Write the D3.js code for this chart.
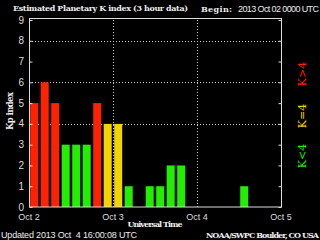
<!DOCTYPE html>
<html>
<head>
<meta charset="utf-8">
<script src="https://cdn.jsdelivr.net/npm/d3@7.9.0/dist/d3.min.js"></script>
<style>
  html, body { margin: 0; padding: 0; background: #000; }
  svg { display: block; }
  text { white-space: pre; }
</style>
</head>
<body>
<svg id="chart" width="320" height="240"></svg>
<script>
// Kp values, one per 3 hours starting 2013 Oct 02 00 UTC
const kpValues = [5, 6, 5, 3, 3, 3, 5, 4,
                  4, 1, 0, 1, 1, 2, 2, 0,
                  0, 0, 0, 0, 1];
const dayLabels = ['Oct 2', 'Oct 3', 'Oct 4', 'Oct 5'];
const yTicks = [0, 1, 2, 3, 4, 5, 6, 7, 8, 9];
const gridLevels = [4, 6, 8];
const legendItems = [
    { label: 'K>4', color: '#ff2200', y: 74 },
    { label: 'K=4', color: '#f4d400', y: 116 },
    { label: 'K<4', color: '#22ee00', y: 156 }
];

const svg = d3.select('#chart');
const plotLeft = 29, plotRight = 281, plotTop = 20, plotBottom = 207;

const x = d3.scaleLinear().domain([0, 72]).range([plotLeft, plotRight]);
const y = d3.scaleLinear().domain([0, 9]).range([plotBottom, plotTop]);

function kpColor(k) {
    if (k > 4) return '#ff2200';
    if (k === 4) return '#f4d400';
    return '#22ee00';
}

// grid lines
svg.selectAll('line.hgrid')
    .data(gridLevels)
    .join('line')
    .attr('x1', plotLeft).attr('x2', plotRight)
    .attr('y1', d => Math.round(y(d)) + 0.5).attr('y2', d => Math.round(y(d)) + 0.5)
    .attr('stroke', '#ccc').attr('stroke-dasharray', '1,2');

svg.selectAll('line.vgrid')
    .data([24, 48])
    .join('line')
    .attr('x1', d => Math.round(x(d)) + 0.5).attr('x2', d => Math.round(x(d)) + 0.5)
    .attr('y1', plotTop).attr('y2', plotBottom)
    .attr('stroke', '#ccc').attr('stroke-dasharray', '1,2');

// bars
const slotW = x(3) - x(0);
svg.selectAll('rect.bar')
    .data(kpValues)
    .join('rect')
    .attr('x', (d, i) => x(i * 3) + 1.2)
    .attr('width', slotW - 2.5)
    .attr('y', d => y(d))
    .attr('height', d => y(0) - y(d))
    .attr('fill', d => kpColor(d));

// frame
svg.append('rect')
    .attr('x', plotLeft + 0.5).attr('y', plotTop - 1.5)
    .attr('width', plotRight - plotLeft).attr('height', plotBottom - plotTop + 1.5)
    .attr('fill', 'none').attr('stroke', '#ddd');

// y ticks on both sides
const yAxisL = d3.axisRight(y).tickValues(yTicks).tickSize(3).tickFormat('');
svg.append('g').attr('transform', `translate(${plotLeft + 0.5},0)`).call(yAxisL)
    .call(g => g.select('.domain').remove())
    .call(g => g.selectAll('line').attr('stroke', '#ddd'));
const yAxisR = d3.axisLeft(y).tickValues(yTicks).tickSize(3).tickFormat('');
svg.append('g').attr('transform', `translate(${plotRight + 0.5},0)`).call(yAxisR)
    .call(g => g.select('.domain').remove())
    .call(g => g.selectAll('line').attr('stroke', '#ddd'));

// y tick labels
svg.selectAll('text.ylab')
    .data(yTicks)
    .join('text')
    .attr('x', 24).attr('y', d => y(d) + 3.5)
    .attr('text-anchor', 'end')
    .attr('fill', '#ddd')
    .attr('font-family', 'Liberation Sans, sans-serif')
    .attr('font-size', 10)
    .text(d => d);

// x labels
svg.selectAll('text.xlab')
    .data(dayLabels)
    .join('text')
    .attr('x', (d, i) => x(i * 24))
    .attr('y', 219.5)
    .attr('text-anchor', 'middle')
    .attr('fill', '#ddd')
    .attr('font-family', 'Liberation Sans, sans-serif')
    .attr('font-size', 9)
    .text(d => d);

const serif = 'DejaVu Serif, serif';

svg.append('text')
    .attr('x', 13).attr('y', 11)
    .attr('fill', '#eee').attr('font-family', serif).attr('font-weight', 'bold')
    .attr('font-size', 8).attr('textLength', 175)
    .text('Estimated Planetary K index (3 hour data)');

svg.append('text')
    .attr('x', 201).attr('y', 12)
    .attr('fill', '#eee').attr('font-family', serif).attr('font-weight', 'bold')
    .attr('font-size', 8).attr('textLength', 31)
    .text('Begin:');

svg.append('text')
    .attr('x', 238).attr('y', 12)
    .attr('fill', '#eee').attr('font-family', 'Liberation Sans, sans-serif')
    .attr('font-size', 9).attr('textLength', 81)
    .text('2013 Oct 02 0000 UTC');

svg.append('text')
    .attr('transform', 'translate(13,111) rotate(-90)')
    .attr('text-anchor', 'middle')
    .attr('fill', '#eee').attr('font-family', serif).attr('font-weight', 'bold')
    .attr('font-size', 8.5).attr('textLength', 38)
    .text('Kp index');

svg.append('text')
    .attr('x', 155).attr('y', 227)
    .attr('text-anchor', 'middle')
    .attr('fill', '#eee').attr('font-family', serif).attr('font-weight', 'bold')
    .attr('font-size', 8).attr('textLength', 55)
    .text('Universal Time');

svg.append('text')
    .attr('x', 1).attr('y', 238)
    .attr('fill', '#eee').attr('font-family', 'Liberation Sans, sans-serif')
    .attr('font-size', 9).attr('textLength', 136)
    .text('Updated 2013 Oct  4 16:00:08 UTC');

svg.append('text')
    .attr('x', 206).attr('y', 238)
    .attr('fill', '#eee').attr('font-family', serif).attr('font-weight', 'bold')
    .attr('font-size', 8).attr('textLength', 113)
    .text('NOAA/SWPC Boulder, CO USA');

// legend on the right
svg.selectAll('text.legend')
    .data(legendItems)
    .join('text')
    .attr('transform', d => `translate(306,${d.y}) rotate(-90)`)
    .attr('text-anchor', 'middle')
    .attr('fill', d => d.color)
    .attr('font-family', serif)
    .attr('font-size', 11)
    .text(d => d.label);
</script>
</body>
</html>
